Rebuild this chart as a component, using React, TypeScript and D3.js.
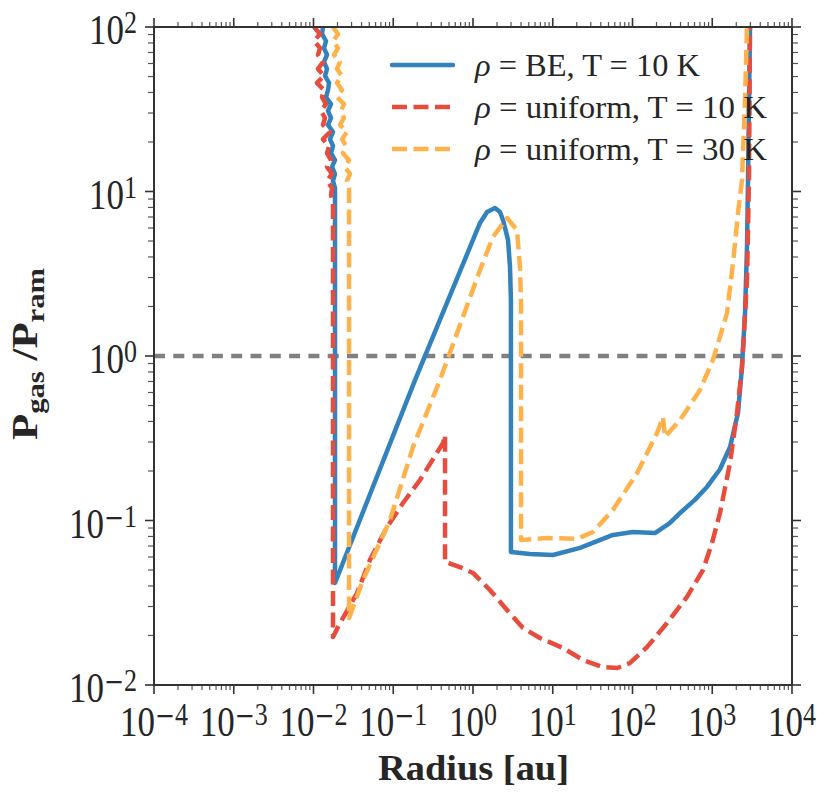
import React from "react";
import * as d3 from "d3";

// ---- data (radius in au, ratio P_gas/P_ram) ----
const beSeries: [number, number][] = [
  [0.01316, 100], [0.01278, 90.7], [0.01435, 82.2], [0.01354, 74.5], [0.01477, 67.6],
  [0.01354, 61.3], [0.01477, 55.6], [0.01394, 50.4], [0.01565, 45.7], [0.0152, 41.4],
  [0.01435, 37.5], [0.01657, 34.0], [0.0152, 30.9], [0.01657, 28.0], [0.0152, 25.4],
  [0.01756, 23.0], [0.0161, 20.8], [0.01756, 18.9], [0.01657, 17.1], [0.0186, 15.5],
  [0.01706, 14.1], [0.0186, 12.8], [0.01756, 11.6], [0.0186, 10.5], [0.0186, 9.52],
  [0.0186, 0.0417], [0.1875, 0.714], [1.224, 6.44], [1.5, 7.5], [1.888, 7.94],
  [2.18, 7.5], [2.38, 6.71], [2.75, 5.07], [2.91, 3.47], [2.99, 2.19], [2.99, 0.0644],
  [5.19, 0.0625], [10.07, 0.0617], [22.0, 0.0681], [56.9, 0.0817], [101, 0.0851],
  [191, 0.0839], [290, 0.096], [394, 0.111], [600, 0.133], [859, 0.16], [1250, 0.205],
  [1671, 0.28], [2104, 0.45], [2360, 0.857], [2576, 1.82], [2727, 4.6], [2808, 11.7],
  [2974, 100],
];

const uniform10Series: [number, number][] = [
  [0.01015, 100], [0.01207, 90.7], [0.01015, 82.2], [0.01207, 74.5], [0.01139, 67.6],
  [0.01316, 61.3], [0.01139, 55.6], [0.01354, 50.4], [0.01106, 45.7], [0.01354, 41.4],
  [0.01278, 37.5], [0.01435, 34.0], [0.01242, 30.9], [0.01394, 28.0], [0.01316, 25.4],
  [0.0161, 23.0], [0.01316, 20.8], [0.01565, 18.9], [0.01477, 17.1], [0.01657, 15.5],
  [0.01477, 14.1], [0.01706, 12.8], [0.01477, 11.6], [0.01706, 10.5], [0.01657, 9.52],
  [0.01756, 8.64], [0.01756, 7.83], [0.01756, 0.0196], [0.0203, 0.02254], [0.0351, 0.0362],
  [0.051, 0.0575], [0.0836, 0.0912], [0.1324, 0.1277], [0.2163, 0.1762], [0.421, 0.296],
  [0.446, 0.331], [0.446, 0.056], [0.687, 0.0521], [1.0, 0.048], [1.63, 0.0378],
  [2.67, 0.0286], [4.24, 0.0222], [6.92, 0.0193], [13.4, 0.0168], [23.9, 0.0142],
  [42.7, 0.01285], [64.0, 0.01268], [93.1, 0.01361], [152, 0.017], [271, 0.0238],
  [482, 0.0343], [766, 0.05], [993, 0.073], [1250, 0.111], [1671, 0.224],
  [2043, 0.45], [2360, 0.857], [2727, 2.9], [2889, 11.7], [2974, 100],
];

const uniform30Series: [number, number][] = [
  [0.01756, 100], [0.0203, 90.7], [0.01756, 82.2], [0.0203, 74.5], [0.01807, 67.6],
  [0.0215, 61.3], [0.0197, 55.6], [0.0228, 50.4], [0.0197, 45.7], [0.0228, 41.4],
  [0.0197, 37.5], [0.0241, 34.0], [0.0221, 30.9], [0.0241, 28.0], [0.0215, 25.4],
  [0.0263, 23.0], [0.0228, 20.8], [0.0256, 18.9], [0.0234, 17.1], [0.0279, 15.5],
  [0.0248, 14.1], [0.0287, 12.8], [0.0263, 11.6], [0.0279, 10.5], [0.0279, 9.52],
  [0.0279, 0.0255], [0.0418, 0.0435], [0.091, 0.1007], [0.177, 0.28],
  [0.385, 0.714], [1.224, 3.33], [1.78, 5.29], [2.67, 6.9], [3.56, 5.83], [3.88, 3.47],
  [4.0, 2.19], [4.0, 0.0761], [8.47, 0.0783], [20.1, 0.0773], [32.0, 0.0851],
  [56.9, 0.116], [114, 0.194], [203, 0.34], [241, 0.426], [256, 0.322], [394, 0.408],
  [702, 0.621], [1021, 0.946], [1531, 1.82], [1820, 3.67], [2104, 7.4], [2360, 11.7],
  [2576, 36], [2727, 100],
];

const xTickExponents = [-4, -3, -2, -1, 0, 1, 2, 3, 4];
const yTickExponents = [-2, -1, 0, 1, 2];
const minorMultipliers = [2, 3, 4, 5, 6, 7, 8, 9];
const referenceLevel = 1;

const legendEntries = [
  { key: "be", label: " = BE, T = 10 K", color: "#3182bd", dash: "none", width: 225 },
  { key: "u10", label: " = uniform, T = 10 K", color: "#e74c3c", dash: "15 6.5", width: 292 },
  { key: "u30", label: " = uniform, T = 30 K", color: "#feb24c", dash: "15 6.5", width: 292 },
];

const FONT = "'Liberation Serif', 'DejaVu Serif', serif";
const MINUS_FONT = "'DejaVu Serif', serif";
const TEXT = "#262626";

const L = 154, R = 792, T = 27, B = 685;

const x = d3.scaleLog().domain([1e-4, 1e4]).range([L, R]);
const y = d3.scaleLog().domain([1e-2, 1e2]).range([B, T]);

const line = d3
  .line<[number, number]>()
  .x((d) => x(d[0]))
  .y((d) => y(d[1]));

function PowerLabel({ e, anchor }: { e: number; anchor: "middle" | "end" }) {
  return (
    <text textAnchor={anchor} fontFamily={FONT} fill={TEXT} fontSize={35}>
      <tspan>10</tspan>
      {e < 0 ? (
        <>
          <tspan fontSize={24} dy={-9.3} fontFamily={MINUS_FONT}>{"\u2212"}</tspan>
          <tspan fontSize={26}>{String(Math.abs(e))}</tspan>
        </>
      ) : (
        <tspan fontSize={26} dy={-9.3}>{String(e)}</tspan>
      )}
    </text>
  );
}

export default function App() {
  const xMinor: number[] = [];
  xTickExponents.slice(0, -1).forEach((e) =>
    minorMultipliers.forEach((m) => xMinor.push(m * Math.pow(10, e)))
  );
  const yMinor: number[] = [];
  yTickExponents.slice(0, -1).forEach((e) =>
    minorMultipliers.forEach((m) => yMinor.push(m * Math.pow(10, e)))
  );

  const series = [
    { d: beSeries, ...legendEntries[0] },
    { d: uniform10Series, ...legendEntries[1] },
    { d: uniform30Series, ...legendEntries[2] },
  ];

  return (
    <svg
      width={830}
      height={800}
      style={{ position: "absolute", left: 0, top: 0, background: "#fff" }}
    >
      <rect x={0} y={0} width={830} height={800} fill="#fff" />
      <defs>
        <clipPath id="plotclip">
          <rect x={L} y={T} width={R - L} height={B - T} />
        </clipPath>
      </defs>

      {/* minor ticks */}
      {xMinor.map((v, i) => (
        <g key={"xm" + i} stroke="#555" strokeWidth={1.2}>
          <line x1={x(v)} x2={x(v)} y1={B} y2={B + 5} />
          <line x1={x(v)} x2={x(v)} y1={T} y2={T - 5} />
        </g>
      ))}
      {yMinor.map((v, i) => (
        <g key={"ym" + i} stroke="#555" strokeWidth={1.2}>
          <line x1={L} x2={L - 6} y1={y(v)} y2={y(v)} />
          <line x1={R} x2={R + 6} y1={y(v)} y2={y(v)} />
        </g>
      ))}
      {/* major ticks */}
      {xTickExponents.map((e) => {
        const px = x(Math.pow(10, e));
        return (
          <g key={"xM" + e} stroke="#333" strokeWidth={1.6}>
            <line x1={px} x2={px} y1={B} y2={B + 9} />
            <line x1={px} x2={px} y1={T} y2={T - 9} />
          </g>
        );
      })}
      {yTickExponents.map((e) => {
        const py = y(Math.pow(10, e));
        return (
          <g key={"yM" + e} stroke="#333" strokeWidth={1.6}>
            <line x1={L} x2={L - 9} y1={py} y2={py} />
            <line x1={R} x2={R + 9} y1={py} y2={py} />
          </g>
        );
      })}

      {/* data lines */}
      <g clipPath="url(#plotclip)">
        <line
          x1={L}
          x2={R}
          y1={y(referenceLevel)}
          y2={y(referenceLevel)}
          stroke="#808080"
          strokeWidth={4.5}
          strokeDasharray="11 8.3"
        />
        {series.map((s) => (
          <path
            key={s.key}
            d={line(s.d) || ""}
            fill="none"
            stroke={s.color}
            strokeWidth={4.5}
            strokeLinejoin="round"
            strokeDasharray={s.dash === "none" ? undefined : s.dash}
          />
        ))}
      </g>

      {/* spines */}
      <rect x={L} y={T} width={R - L} height={B - T} fill="none" stroke="#333" strokeWidth={2} />

      {/* x tick labels */}
      {xTickExponents.map((e) => (
        <g key={"xl" + e} transform={`translate(${x(Math.pow(10, e))},736) scale(1,1.18)`}>
          <PowerLabel e={e} anchor="middle" />
        </g>
      ))}
      {/* y tick labels */}
      {yTickExponents.map((e) => (
        <g key={"yl" + e} transform={`translate(137,${y(Math.pow(10, e)) + 17}) scale(1,1.18)`}>
          <PowerLabel e={e} anchor="end" />
        </g>
      ))}

      {/* axis titles */}
      <text
        x={378}
        y={780}
        fontFamily={FONT}
        fontWeight="bold"
        fontSize={35}
        fill={TEXT}
        textLength={191}
        lengthAdjust="spacingAndGlyphs"
      >
        Radius [au]
      </text>
      <g transform="translate(37,440) rotate(-90)">
        <text
          x={0}
          y={0}
          fontFamily={FONT}
          fontWeight="bold"
          fontSize={35}
          fill={TEXT}
          textLength={172}
          lengthAdjust="spacingAndGlyphs"
        >
          <tspan>P</tspan>
          <tspan fontSize={25} dy={7}>gas</tspan>
          <tspan dy={-7}> /P</tspan>
          <tspan fontSize={25} dy={7}>ram</tspan>
        </text>
      </g>

      {/* legend */}
      {legendEntries.map((le, i) => {
        const ly = 65 + i * 42;
        return (
          <g key={"lg" + le.key}>
            <line
              x1={392}
              x2={453}
              y1={ly}
              y2={ly}
              stroke={le.color}
              strokeWidth={4.5}
              strokeLinecap={le.dash === "none" ? "round" : "butt"}
              strokeDasharray={le.dash === "none" ? undefined : le.dash}
            />
            <text
              x={475}
              y={ly + 10.5}
              fontFamily={FONT}
              fontSize={31}
              fill={TEXT}
              textLength={le.width}
              lengthAdjust="spacingAndGlyphs"
            >
              <tspan fontStyle="italic">ρ</tspan>
              <tspan>{le.label}</tspan>
            </text>
          </g>
        );
      })}
    </svg>
  );
}
